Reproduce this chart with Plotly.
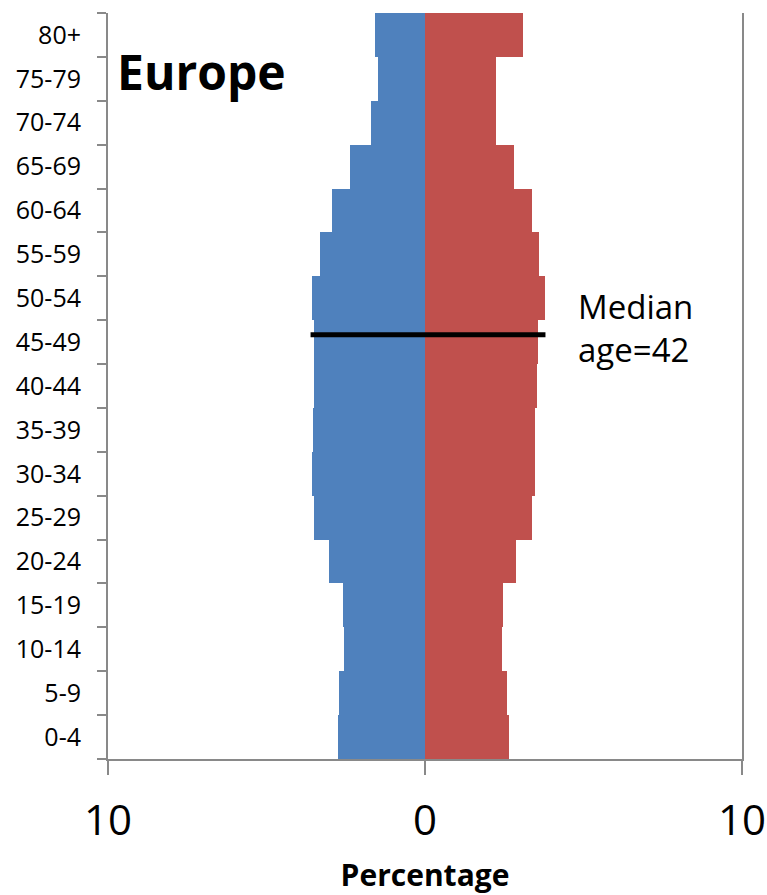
import plotly.graph_objects as go

age_groups = ["0-4", "5-9", "10-14", "15-19", "20-24", "25-29", "30-34", "35-39",
              "40-44", "45-49", "50-54", "55-59", "60-64", "65-69", "70-74", "75-79", "80+"]
male_pct = [2.75, 2.71, 2.54, 2.59, 3.02, 3.51, 3.56, 3.53,
            3.51, 3.49, 3.58, 3.30, 2.92, 2.37, 1.71, 1.49, 1.58]
female_pct = [2.65, 2.60, 2.43, 2.46, 2.87, 3.39, 3.48, 3.47,
              3.52, 3.55, 3.77, 3.61, 3.39, 2.80, 2.24, 2.23, 3.08]
x_tickvals = [-10, 0, 10]
x_ticktext = ["10", "0", "10"]
median_label = "Median<br>age=42"
median_line_pos = 9.17   # position on the category axis
median_line_x = [-3.61, 3.80]

BLUE = "#4F81BD"
RED = "#C0504D"
GRAY = "#898989"
FONT = "Open Sans, Noto Sans, DejaVu Sans, sans-serif"

W, H = 767, 895
L, R, T, B = 108, 25, 13, 136
pw, ph = W - L - R, H - T - B

def px_x(x):  # page pixel -> paper fraction
    return (x - L) / pw

def px_y(y):
    return (H - B - y) / ph

fig = go.Figure()
fig.add_trace(go.Bar(y=age_groups, x=[-v for v in male_pct], orientation="h",
                     marker=dict(color=BLUE, line=dict(width=0)), name="Male"))
fig.add_trace(go.Bar(y=age_groups, x=female_pct, orientation="h",
                     marker=dict(color=RED, line=dict(width=0)), name="Female"))

fig.add_shape(type="line", xref="x", yref="y",
              x0=median_line_x[0], x1=median_line_x[1],
              y0=median_line_pos, y1=median_line_pos,
              line=dict(color="black", width=5))

fig.add_annotation(text="<b>Europe</b>", xref="paper", yref="paper",
                   x=px_x(115), y=px_y(71), xanchor="left", yanchor="middle",
                   showarrow=False, font=dict(family=FONT, size=48, color="black"))
fig.add_annotation(text=median_label, xref="paper", yref="paper",
                   x=px_x(576), y=px_y(328), xanchor="left", yanchor="middle",
                   align="left", showarrow=False,
                   font=dict(family=FONT, size=33, color="black"))

fig.update_layout(
    width=W, height=H,
    margin=dict(l=L, r=R, t=T, b=B, autoexpand=False),
    barmode="relative", bargap=0,
    showlegend=False,
    plot_bgcolor="white", paper_bgcolor="white",
    font=dict(family=FONT, color="black"),
    xaxis=dict(range=[-10, 10], tickvals=x_tickvals, ticktext=x_ticktext,
               automargin=False,
               showgrid=False, zeroline=False,
               showline=True, linecolor=GRAY, linewidth=2,
               ticks="outside", ticklen=14, tickwidth=2, tickcolor=GRAY,
               tickfont=dict(family=FONT, size=42),
               ticklabelstandoff=10, ticklabeloverflow="allow",
               title=dict(text="<b>Percentage</b>", font=dict(family=FONT, size=30),
                          standoff=26)),
    yaxis=dict(categoryorder="array", categoryarray=age_groups,
               automargin=False,
               showline=True, linecolor=GRAY, linewidth=2, mirror=True,
               showgrid=False, zeroline=False,
               ticks="outside", tickson="boundaries", ticklen=9, tickwidth=2,
               tickcolor=GRAY, tickfont=dict(family=FONT, size=25),
               ticklabelstandoff=20),
)

fig.write_html("out.html", config={"displayModeBar": False},
               post_script="document.body.style.margin='0px';"
                           "document.body.style.overflow='hidden';")
